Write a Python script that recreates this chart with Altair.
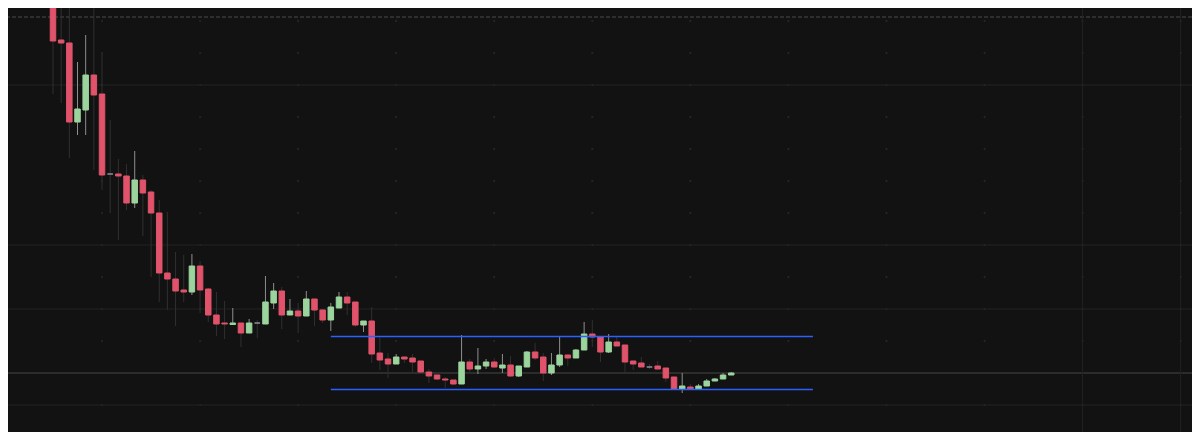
import altair as alt
import pandas as pd

# candle index (one per bar) and OHLC prices
opens = [470, 400, 397, 318, 330, 365, 346, 266, 266, 264, 237, 260, 248, 227, 167, 161, 150, 148, 174, 151,
         125, 117, 115.5, 117, 107, 117, 116, 137, 149, 125, 129, 124, 141, 130, 120, 132, 143, 138, 115, 119,
         87, 81, 76, 83, 82, 79, 68, 65, 61, 60, 56, 78, 71, 74, 78, 72, 75, 64, 73, 88,
         83, 67, 75, 85, 82, 90, 106, 103, 88, 98, 95, 79, 77, 73, 74, 72, 63, 51, 53, 51,
         54, 59, 61, 65]
highs = [480, 450, 445, 378, 405, 442, 387, 320, 281, 276, 289, 265, 250, 240, 228, 188, 185, 186, 179, 152,
         148, 139, 132, 117, 121, 120, 164, 157, 153, 141, 137, 149, 141, 131, 137, 148, 148, 138, 119, 133,
         103, 87, 86, 83, 86, 79, 71, 65, 63, 60, 105, 81, 92, 81, 82, 86, 84, 74, 89, 97,
         87, 87, 104, 85, 91, 118, 120, 103, 106, 103, 95, 79, 83, 76, 79, 72, 63, 67, 56, 56,
         61, 62, 67, 68]
lows = [346, 337, 282, 305, 305, 270, 250, 227, 200, 230, 232, 204, 163, 138, 130, 114, 138, 145, 127, 118,
        104, 101, 115, 93, 107, 102, 116, 131, 111, 125, 107, 124, 114, 117, 109, 132, 125, 113, 108, 77,
        70, 62, 76, 77, 68, 67, 57, 60, 52, 55, 56, 68, 66, 71, 72, 67, 63, 63, 73, 80,
        59, 65, 73, 74, 82, 90, 93, 78, 87, 94, 68, 70, 73, 71, 71, 58, 51, 47, 51, 51,
        54, 59, 61, 65]
closes = [399, 397, 318, 331, 365, 345, 265, 266, 264, 237, 260, 247, 227, 167, 161, 149, 148, 174, 150, 125,
          116, 116, 117, 107, 117, 117, 138, 149, 125, 129, 124, 141, 130, 120, 133, 143, 137, 115, 119, 86,
          80, 76, 83, 81, 78, 68, 64, 61, 60, 56, 78, 71, 74, 78, 73, 75, 64, 74, 88, 82,
          67, 75, 85, 82, 90, 106, 103, 88, 98, 94, 78, 76, 73, 73, 71, 62, 51, 54, 51, 54,
          59, 61, 65, 67]
index = list(range(len(opens)))

# channel lines (start index, end index, price)
channel_start = [34, 34]
channel_end = [93, 93]
channel_price = [103.5, 50.5]

# background grid levels
grid_prices = [355, 195, 131, 35]
strong_grid_prices = [67]
dashed_prices = [423]
grid_index = [126, 138]
minor_index = [-6, 6, 18, 30, 42, 54, 66, 78, 90, 102, 114, 126, 138]
minor_prices = [419, 387, 355, 323, 291, 259, 227, 195, 163, 131, 99, 67, 35]

RED = "#e0536b"
GREEN = "#9bd49d"
GRAY = "#8b8f98"
DARK_WICK = "#303030"
LIGHT_WICK = "#8e8e8e"
BG = "#121212"

df = pd.DataFrame({"i": index, "open": opens, "high": highs, "low": lows, "close": closes})
df["dir"] = ["up" if c > o else ("down" if c < o else "flat") for o, c in zip(opens, closes)]

xscale = alt.Scale(domain=[-5.507, 139.39], nice=False, zero=False, padding=0)
yscale = alt.Scale(domain=[8, 432], nice=False, zero=False, padding=0)

body_color = alt.Scale(domain=["up", "down", "flat"], range=[GREEN, RED, GRAY])
wick_color = alt.Scale(domain=["up", "down", "flat"], range=[LIGHT_WICK, DARK_WICK, DARK_WICK])

grid_df = pd.DataFrame({"p": grid_prices})
strong_df = pd.DataFrame({"p": strong_grid_prices})
dash_df = pd.DataFrame({"p": dashed_prices})
vgrid_df = pd.DataFrame({"i": grid_index})
minor_df = pd.DataFrame([{"i": a, "p": b} for a in minor_index for b in minor_prices])
chan_df = pd.DataFrame({"x0": channel_start, "x1": channel_end, "p": channel_price})

hgrid = alt.Chart(grid_df).mark_rule(color="#222222", strokeWidth=1).encode(
    y=alt.Y("p:Q", scale=yscale, axis=None))
hstrong = alt.Chart(strong_df).mark_rule(color="#2c2c2c", strokeWidth=2).encode(
    y=alt.Y("p:Q", scale=yscale, axis=None))
hdash = alt.Chart(dash_df).mark_rule(color="#2e2e2e", strokeWidth=2, strokeDash=[4, 2]).encode(
    y=alt.Y("p:Q", scale=yscale, axis=None))
vgrid = alt.Chart(vgrid_df).mark_rule(color="#222222", strokeWidth=1).encode(
    x=alt.X("i:Q", scale=xscale, axis=None))
minor = alt.Chart(minor_df).mark_square(color="#2a2a2a", size=3, opacity=1).encode(
    x=alt.X("i:Q", scale=xscale, axis=None), y=alt.Y("p:Q", scale=yscale, axis=None))

base = alt.Chart(df).encode(x=alt.X("i:Q", scale=xscale, axis=None))
wicks = base.mark_rule(strokeWidth=1, clip=True).encode(
    y=alt.Y("low:Q", scale=yscale, axis=None), y2="high:Q",
    color=alt.Color("dir:N", scale=wick_color, legend=None))
bodies = base.mark_bar(width=5.5, strokeWidth=1, clip=True).encode(
    y=alt.Y("open:Q", scale=yscale, axis=None), y2="close:Q",
    fill=alt.Fill("dir:N", scale=body_color, legend=None),
    stroke=alt.Stroke("dir:N", scale=body_color, legend=None))

channel = alt.Chart(chan_df).mark_rule(color="#2962ff", strokeWidth=1.5).encode(
    x=alt.X("x0:Q", scale=xscale, axis=None), x2="x1:Q",
    y=alt.Y("p:Q", scale=yscale, axis=None))

chart = alt.layer(minor, hgrid, hstrong, hdash, vgrid, wicks, bodies, channel).properties(
    width=1184, height=424, background=BG, padding=0,
    autosize=alt.AutoSizeParams(type="none"),
).configure_view(stroke=None)

chart.save("out.html", embed_options={"renderer": "svg", "actions": False})
